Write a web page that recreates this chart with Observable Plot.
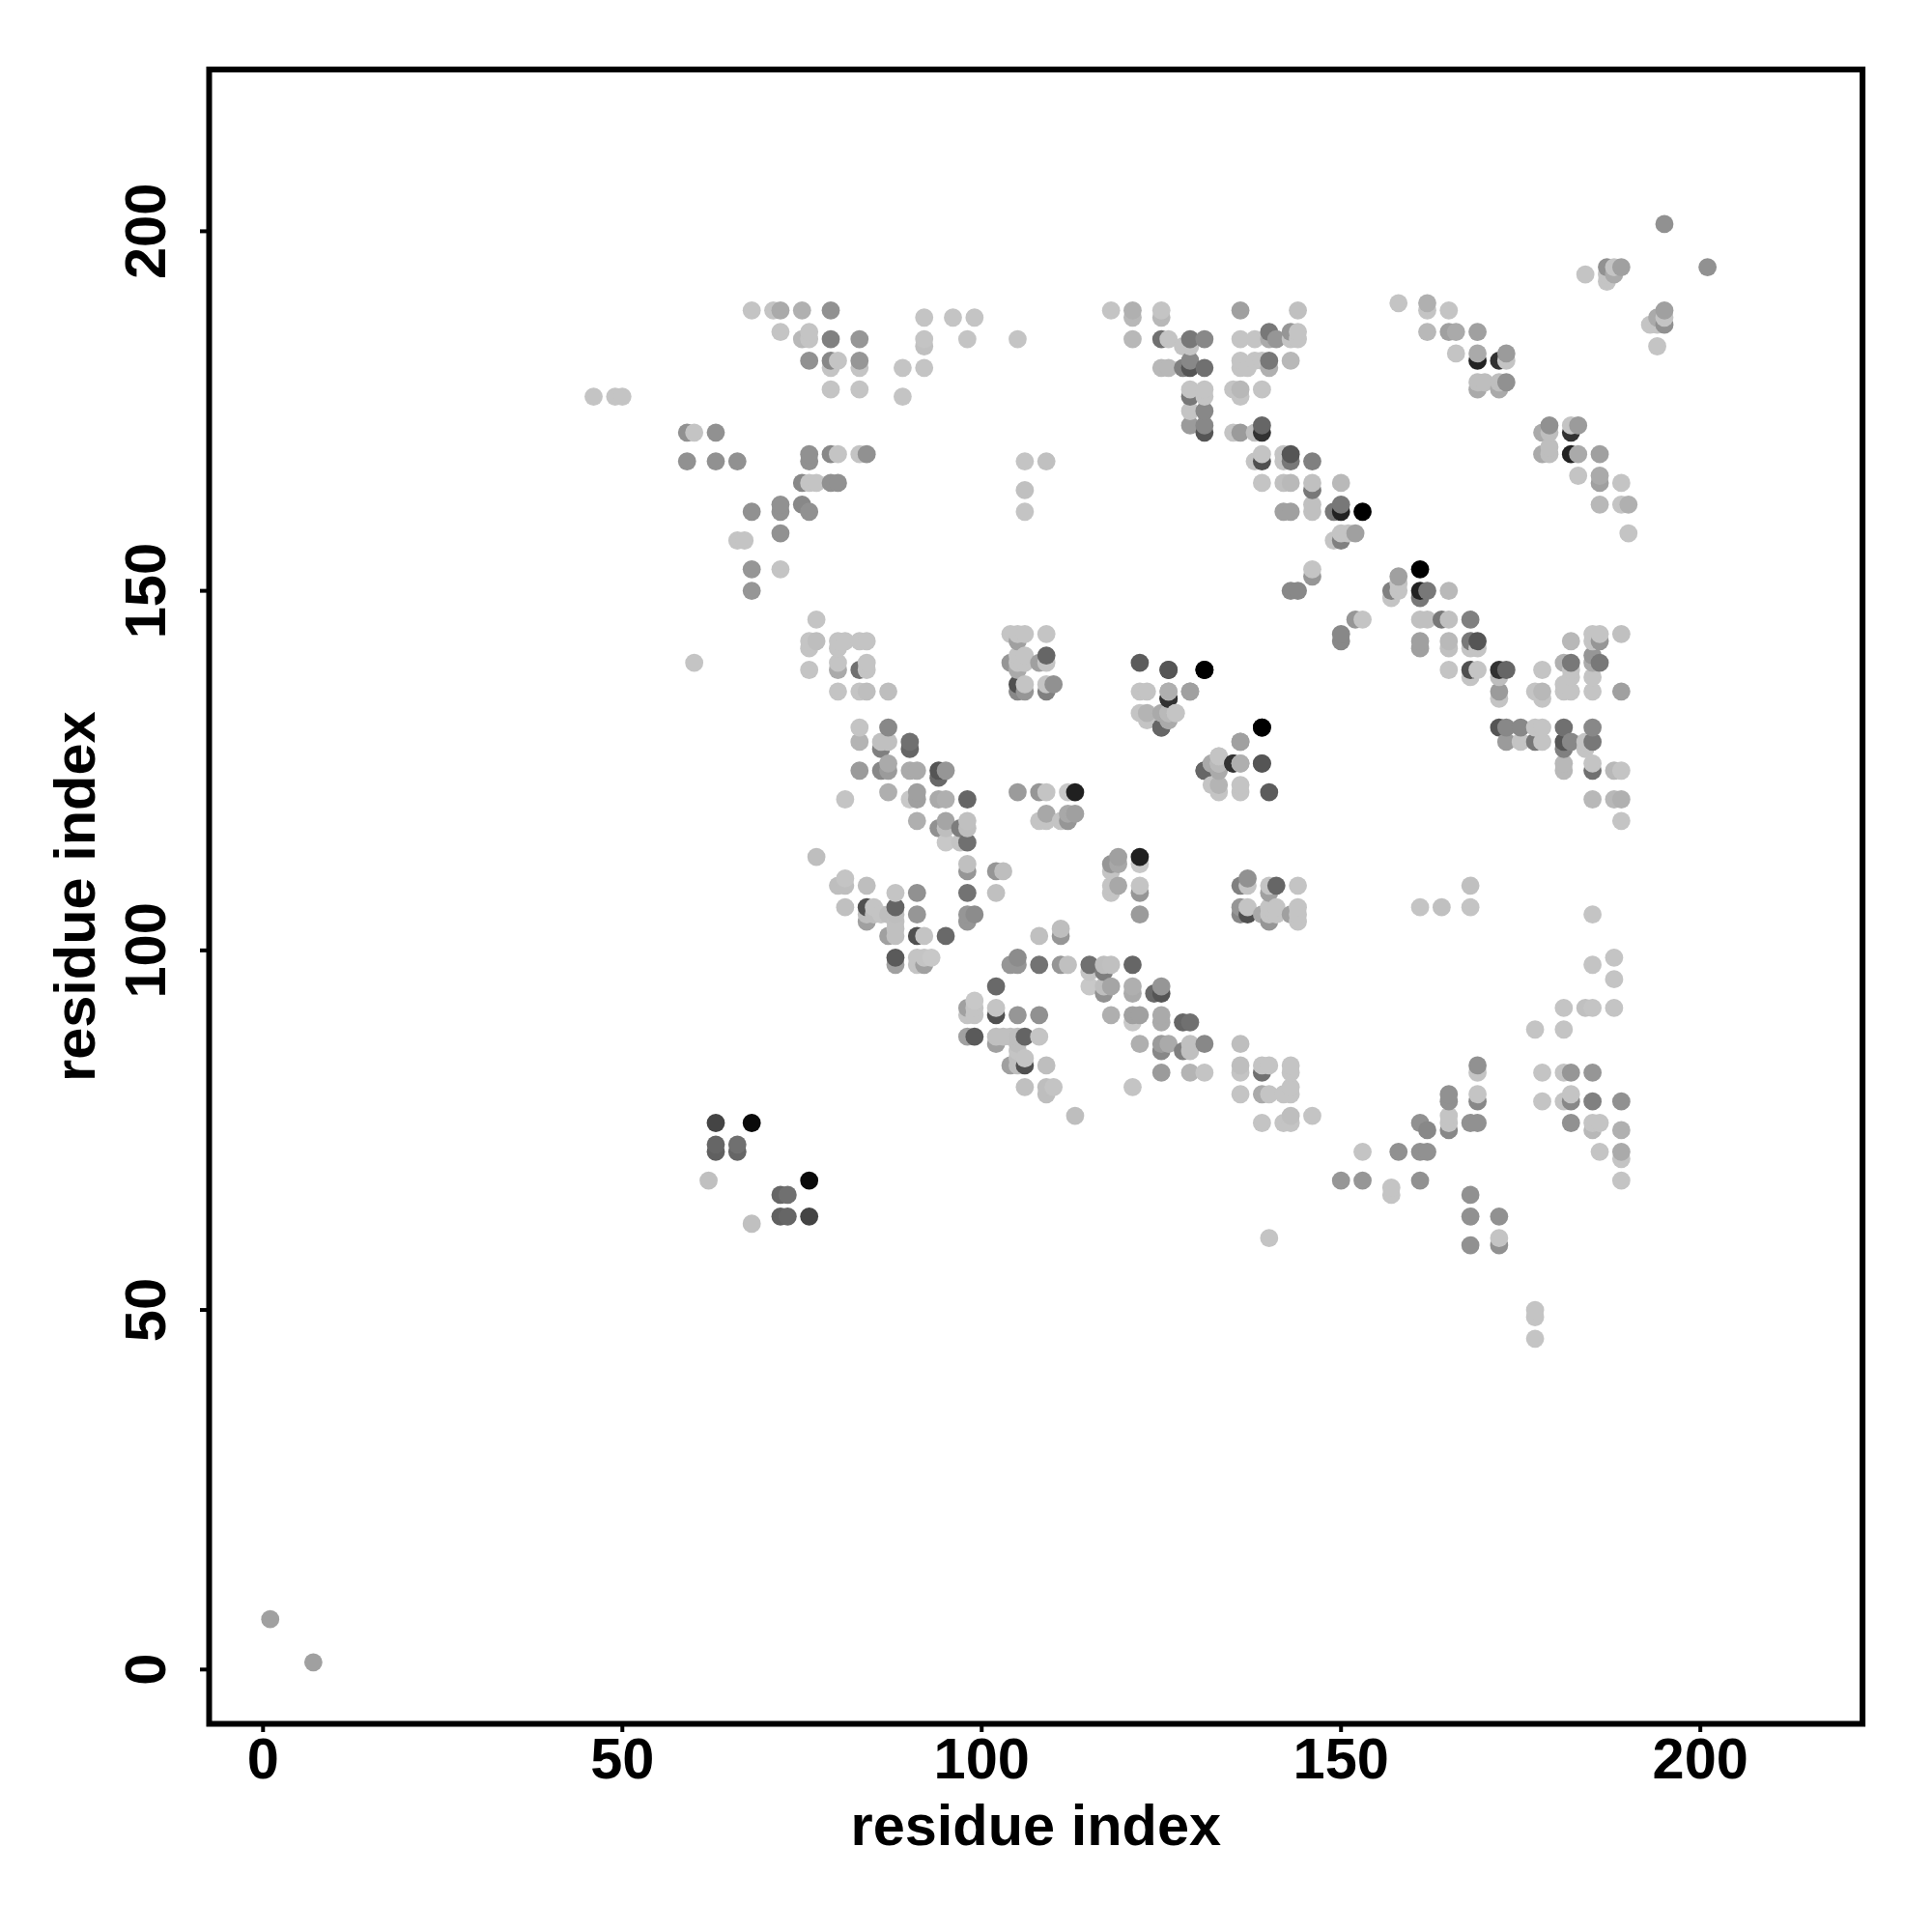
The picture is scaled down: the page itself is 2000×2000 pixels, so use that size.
<!DOCTYPE html>
<html>
<head>
<meta charset="utf-8">
<style>html,body{margin:0;padding:0;background:#fff}svg{display:block}</style>
<script src="https://cdn.jsdelivr.net/npm/d3@7"></script>
<script src="https://cdn.jsdelivr.net/npm/@observablehq/plot@0.6"></script>
</head>
<body>
<script>
const tickValues = [0, 50, 100, 150, 200];
const axisTitle = "residue index";
const residues = [7,68,72,73,76,98,99,102,103,104,105,106,108,109,110,111,112,113,115,117,118,119,121,122,124,125,126,127,128,129,131,132,133,135,136,137,139,140,141,142,143,144,146,150,152,153,157,158,161,162,164,165,168,169,172,173,175,177,178,179,181,182,183,184,185,186,188,189,190,193,194,195,201];
const partners = [
[1],[62],[63,66],[63,66],[63,68],[88,91,92],[88,91,92,93],[87,88,91,92,95],[88],[84,88,98],
[84,85,86,87,88,91,98,99],[81,84,85,88],[88,91,98,102],[80,81,84],[81],[98,102,103],[98],[77],[95,97,98],[94,95,97,98],
[91,95,98,108,109,111,112],[109,112,113],[81,90,91,94,95,98],[87,91,105,108,109,112,113],[94],[83,86,87,90,91,94,95,131,133],[87,132,133,135,136,139],[133],[86,90],[83,86,87,90,136],
[83,87,125,139],[123,126],[122,123,126,127],[126],[80,83,84,87,105,106,109,122,123,126,129],[105,106,109,110],[76,80,83,84,105,126,131],[60,80,84,104,105,106,108,109,122],[105,106,109],[76,80],
[76,77,80,81,83,84,105],[104,105,106,109],[77],[68,143,144],[146],[68,72,146],[66,67,149,150],[72,150,151,152],[68,72,76,106,142,143,146,149,150,153],[72,75,146,150],
[106,146],[75,76,77,79,80,139,142,143,146,150],[59,63,66,76,106,109,138,139,142,143,146],[76,79,80,83,84,139,142,143],[59,60,63,131,135,136,138,139],[129,131,139],[129,131],[46,49,50,89,129,131,136],[79,83,129,131,135,136,139,169,172],[169,170,172,173],
[79,83,89,92,125,126,128,129,131,136,137,140],[76,79,80,83,129,136,138,139,140,143,169,172,173],[166,169,173],[92,128,129],[75,76,79,83,92,98,105,121,125,126,129,131,136,138,140,141,143,144],[72,76,140,143,144,162,165,166,169],[92,96,99,121,125],[68,71,72,75,79,118,121,125,136,144,162,165],[158,162],[187],
[184,187,188],[187,188,189],[195]
];
const shades = [
[160],[192],[96,102],[102,112],[68,10],[160,196,160],[90,196,196,200],[160,192,80,196,105],[192],[160,192,150],
[190,190,196,190,190,150,150,140],[192,80,196,100],[196,145,115,192],[190,190,190],[196],[150,150,190],[192],[190],[200,196,112],[145,190,125,190],
[175,165,192,196,196,196,150],[168,168,160],[196,200,160,170,175,102],[175,160,155,150,196,200,32],[105],[155,136,155,170,170,85,150,100,170],[170,170,192,50,180,85],[196],[128,102],[180,192,192,112,160],
[196,136,102,2],[196,170],[196,180,185,196],[50],[196,196,190,190,136,150,128,196,196,175,160],[80,196,196,145],[196,170,112,196,170,85,0],[196,196,196,150,196,196,160,196,92],[196,196,102],[196,196],
[196,190,196,196,196,196,160],[196,196,196,196],[196],[150,136,136],[150],[150,196,196],[196,196,196,128],[145,196,196,160],[145,145,145,196,160,160,192,120,34,0],[145,136,192,120],
[192,120],[136,196,196,145,145,196,192,185,192,185],[145,145,145,145,196,192,196,80,196,120,128],[145,136,196,196,145,196,196,85],[145,196,145,85,196,155,190,50],[155,136,102],[196,136],[196,196,196,196,120,196,196],[196,196,196,196,196,184,196,170,170],[190,190,190,145],
[196,196,196,196,184,184,128,85,112,196,196,176],[145,136,196,150,136,196,196,196,120,184,34,50,196],[196,170,155],[192,196,196],[184,196,128,150,196,196,196,184,112,196,120,136,196,196,170,150,196,196],[196,196,120,150,196,184,160,170,160],[196,196,196,184,184],[196,196,170,176,145,196,176,196,160,192,196,196],[196,176],[196],
[196,196,170],[145,196,160],[145]
];

// The contact map is symmetric: each contact is drawn at (a,b) and (b,a), ordered by x then y.
const contacts = residues.flatMap((a, k) => partners[k].flatMap((b, m) => [
  {x: a, y: b, shade: shades[k][m]},
  {x: b, y: a, shade: shades[k][m]}
])).sort((p, q) => p.x - q.x || p.y - q.y);

const font = "'Liberation Sans', Arimo, Helvetica, Arial, sans-serif";
const chart = Plot.plot({
  width: 2000, height: 2000,
  marginLeft: 216, marginRight: 72.4, marginTop: 71.4, marginBottom: 216,
  style: {fontFamily: font, fontWeight: "bold", background: "#fff", color: "#000"},
  x: {domain: [-7.5, 222.57]},
  y: {domain: [-7.55, 222.5]},
  color: {type: "linear", domain: [0, 255], range: ["#000", "#fff"]},
  marks: [
    Plot.dot(contacts, {x: "x", y: "y", r: 9.4, fill: "shade", stroke: "none"}),
    Plot.frame({stroke: "#000", strokeWidth: 6}),
    Plot.axisX({ticks: tickValues, tickSize: 9, tickPadding: 5, strokeWidth: 4, fontSize: 59.5, fontWeight: "bold", fontFamily: font, label: axisTitle, labelAnchor: "center", labelArrow: "none", labelOffset: 125, tickFormat: d => String(d)}),
    Plot.axisY({ticks: tickValues, tickSize: 9, tickRotate: -90, tickPadding: 37, strokeWidth: 4, fontSize: 59.5, fontWeight: "bold", fontFamily: font, label: axisTitle, labelAnchor: "center", labelArrow: "none", labelOffset: 161, tickFormat: d => String(d)})
  ]
});
document.body.appendChild(chart);
</script>
</body>
</html>
